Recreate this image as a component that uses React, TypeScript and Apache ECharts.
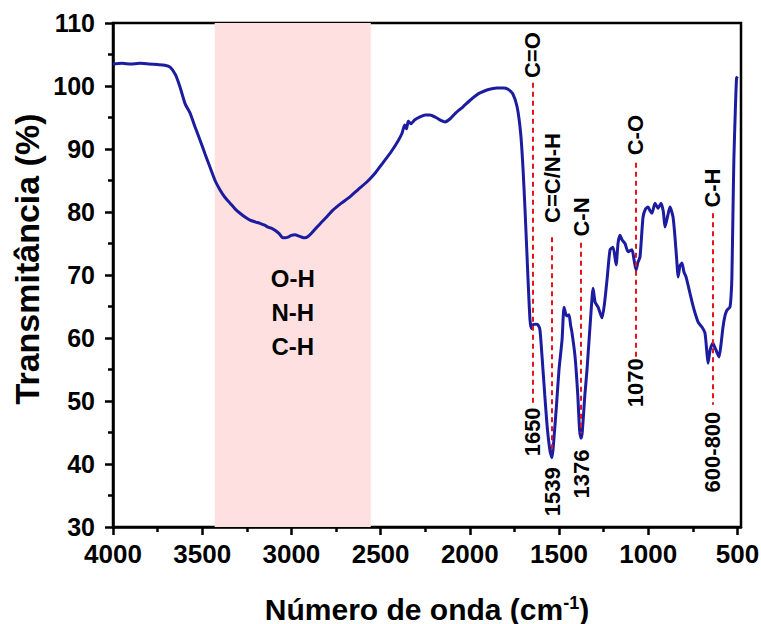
import React, { useEffect, useRef } from "react";
import * as echarts from "echarts";

// FTIR spectrum (wavenumber cm-1, transmittance %)
const wavenumbers = [
  4000, 3950, 3900, 3850, 3800, 3750, 3710, 3680, 3650, 3624, 3596, 3568, 3540, 3512, 3484, 3456, 3428, 3400,
  3372, 3344, 3316, 3288, 3260, 3232, 3200, 3176, 3150, 3131, 3110, 3092, 3070, 3053, 3035, 3019, 3000, 2980,
  2960, 2941, 2925, 2907, 2885, 2857, 2830, 2800, 2767, 2720, 2672, 2625, 2576, 2530, 2487, 2440, 2400, 2380,
  2365, 2355, 2345, 2330, 2310, 2279, 2250, 2223, 2190, 2160, 2139, 2110, 2080, 2038, 2000, 1960, 1943, 1900,
  1848, 1810, 1786, 1760, 1735, 1715, 1702, 1690, 1680, 1674, 1663, 1655, 1646, 1630, 1618, 1607, 1595, 1580,
  1565, 1550, 1539, 1530, 1515, 1500, 1483, 1472, 1462, 1455, 1444, 1435, 1427, 1410, 1395, 1385, 1377, 1370,
  1355, 1343, 1321, 1309, 1298, 1281, 1259, 1245, 1230, 1214, 1197, 1180, 1169, 1158, 1147, 1130, 1113, 1091,
  1080, 1068, 1058, 1046, 1029, 1015, 1001, 990, 979, 962, 945, 928, 915, 906, 890, 878, 861, 850, 839, 833,
  822, 811, 800, 788, 766, 750, 738, 720, 698, 682, 672, 665, 655, 648, 637, 628, 620, 612, 603, 592, 581, 570,
  559, 542, 535, 531, 525, 520, 512, 505, 500,
];
const transmittance = [
  103.5, 103.6, 103.5, 103.6, 103.5, 103.4, 103.3, 103.0, 101.8, 99.8, 97.2, 95.7, 93.5, 91.4, 89.2, 87.1, 85.0, 83.5,
  82.3, 81.4, 80.5, 79.8, 79.2, 78.7, 78.4, 78.2, 77.9, 77.6, 77.4, 77.1, 76.6, 76.0, 75.9, 76.0, 76.3, 76.4,
  76.2, 76.0, 75.9, 76.1, 76.7, 77.6, 78.4, 79.3, 80.3, 81.4, 82.4, 83.6, 84.8, 86.2, 87.8, 89.6, 91.4, 92.5,
  93.8, 93.2, 94.4, 94.0, 94.6, 95.1, 95.4, 95.4, 95.0, 94.5, 94.3, 94.8, 95.7, 96.7, 97.7, 98.6, 98.9, 99.4,
  99.7, 99.7, 99.5, 98.8, 96.7, 92.5, 87.0, 80.0, 73.5, 69.5, 63.0, 61.5, 62.1, 62.2, 62.1, 61.3, 57.0, 51.0,
  45.5, 42.0, 41.0, 43.5, 49.0, 55.0, 59.7, 64.9, 63.8, 63.5, 63.7, 62.0, 60.8, 57.0, 51.0, 45.5, 44.1, 45.0,
  51.0, 55.0, 64.0, 67.9, 65.7, 64.9, 63.2, 65.5, 69.5, 74.0, 74.4, 71.6, 75.1, 76.3, 75.6, 75.0, 73.7, 74.0,
  72.5, 70.8, 72.0, 72.9, 79.2, 80.5, 80.8, 80.2, 79.8, 81.4, 80.6, 81.4, 80.0, 77.6, 79.5, 80.8, 79.2, 76.0, 71.9, 69.7,
  71.5, 71.9, 70.5, 69.7, 67.1, 65.2, 64.0, 62.5, 61.7, 60.8, 58.0, 56.0, 57.8, 58.6, 59.2, 58.6, 58.1, 57.5, 57.0, 59.0, 61.7, 63.5,
  64.4, 64.9, 67.0, 69.7, 80.0, 88.3, 96.0, 101.2, 101.5,
];

// axis ticks
const xMajorTicks = [500, 1000, 1500, 2000, 2500, 3000, 3500, 4000];
const xMinorTicks = [750, 1250, 1750, 2250, 2750, 3250, 3750];

// highlighted band
const bandRange = [3430, 2555];
const bandLabel = ["O-H", "N-H", "C-H"];
const bandLabelPos = [2992, 64.1];

// peak annotations
const peakX = [1650, 1539, 1376, 1070, 640];
const peakGroups = ["C=O", "C=C/N-H", "C-N", "C-O", "C-H"];
const peakValues = ["1650", "1539", "1376", "1070", "600-800"];
const groupLabelY = [104.9, 85.4, 79.2, 92.2, 83.8];
const valueLabelY = [45.1, 35.6, 38.4, 52.9, 41.9];
const lineTop = [100.5, 76.0, 75.1, 87.8, 79.8];
const lineBottom = [49.4, 42.2, 44.9, 57.0, 49.4];

const FONT = "'Liberation Sans', Arial, Helvetica, sans-serif";

export default function App() {
  const ref = useRef<HTMLDivElement>(null);
  useEffect(() => {
    if (!ref.current) return;
    const chart = echarts.init(ref.current, null, { renderer: "svg" });
    const spectrum = wavenumbers.map((w, i) => [w, transmittance[i]]);
    const labelPoints = [
      ...peakX.map((x, i) => ({ name: peakGroups[i], value: [x, groupLabelY[i]] })),
      ...peakX.map((x, i) => ({ name: peakValues[i], value: [x, valueLabelY[i]] })),
    ];
    const textLabel = {
      color: "#000",
      opacity: 1,
      fontWeight: "bold",
      fontFamily: FONT,
      textBorderWidth: 0,
      textBorderColor: "transparent",
      textShadowBlur: 0,
    };
    chart.setOption({
      animation: false,
      backgroundColor: "#fff",
      grid: {
        left: 113,
        right: 20,
        top: 23,
        bottom: 97,
        outerBoundsMode: "none",
        containLabel: false,
        show: true,
        borderColor: "#000",
        borderWidth: 2.5,
        backgroundColor: "transparent",
      },
      xAxis: [
        {
          type: "value",
          min: 480,
          max: 4000,
          inverse: true,
          position: "bottom",
          splitLine: { show: false },
          axisLine: { show: true, onZero: false, lineStyle: { color: "#000", width: 2.5 } },
          axisTick: {
            show: true,
            inside: false,
            length: 8,
            customValues: xMajorTicks,
            lineStyle: { color: "#000", width: 2.5 },
          },
          axisLabel: {
            customValues: xMajorTicks,
            formatter: (v: number) => String(v),
            hideOverlap: false,
            margin: 14,
            color: "#000",
            fontSize: 26,
            fontWeight: "bold",
            fontFamily: FONT,
          },
          name: "Número de onda (cm{sup|-1})",
          nameLocation: "middle",
          nameGap: 67,
          nameTextStyle: {
            color: "#000",
            fontSize: 30,
            fontWeight: "bold",
            fontFamily: FONT,
            rich: {
              sup: {
                fontSize: 18,
                fontWeight: "bold",
                fontFamily: FONT,
                color: "#000",
                verticalAlign: "top",
              },
            },
          },
        },
        {
          type: "value",
          min: 480,
          max: 4000,
          inverse: true,
          position: "bottom",
          gridIndex: 0,
          splitLine: { show: false },
          axisLine: { show: false, onZero: false },
          axisTick: {
            show: true,
            inside: false,
            length: 5,
            customValues: xMinorTicks,
            lineStyle: { color: "#000", width: 2.5 },
          },
          axisLabel: { show: false },
        },
      ],
      yAxis: {
        type: "value",
        min: 30,
        max: 110,
        interval: 10,
        splitLine: { show: false },
        axisLine: { show: true, onZero: false, lineStyle: { color: "#000", width: 2.5 } },
        axisTick: { show: true, inside: false, length: 8, lineStyle: { color: "#000", width: 2.5 } },
        minorTick: { show: true, splitNumber: 2, length: 5, lineStyle: { color: "#000", width: 2.5 } },
        minorSplitLine: { show: false },
        axisLabel: {
          margin: 18,
          color: "#000",
          fontSize: 25,
          fontWeight: "bold",
          fontFamily: FONT,
        },
      },
      graphic: [
        {
          type: "text",
          x: 27,
          y: 259,
          rotation: Math.PI / 2,
          style: {
            text: "Transmitância (%)",
            x: 0,
            y: 0,
            align: "center",
            verticalAlign: "middle",
            fill: "#000",
            font: `bold 34px ${FONT}`,
          },
        },
      ],
      series: [
        {
          type: "line",
          name: "band",
          data: [],
          silent: true,
          markArea: {
            silent: true,
            itemStyle: { color: "#fde0df", opacity: 1 },
            data: [[{ xAxis: bandRange[0] }, { xAxis: bandRange[1] }]],
            label: { show: false },
          },
          z: 1,
        },
        {
          type: "line",
          name: "spectrum",
          data: spectrum,
          showSymbol: false,
          symbol: "none",
          smooth: 0.2,
          lineStyle: { color: "#1c1ca0", width: 3 },
          z: 3,
          markLine: {
            silent: true,
            symbol: ["none", "none"],
            label: { show: false },
            lineStyle: { color: "#e4151b", width: 2, type: [5, 4] },
            data: peakX.map((x, i) => [
              { coord: [x, lineTop[i]] },
              { coord: [x, lineBottom[i]] },
            ]),
          },
        },
        {
          type: "scatter",
          name: "labels",
          data: labelPoints,
          symbolSize: 1,
          itemStyle: { color: "#000", opacity: 0 },
          silent: true,
          z: 5,
          label: {
            show: true,
            position: "inside",
            rotate: 90,
            formatter: (p: any) => p.name,
            fontSize: 22,
            ...textLabel,
          },
        },
        {
          type: "scatter",
          name: "bandText",
          data: [{ name: bandLabel.join("\n"), value: bandLabelPos }],
          symbolSize: 1,
          itemStyle: { color: "#000", opacity: 0 },
          silent: true,
          z: 5,
          label: {
            show: true,
            position: "inside",
            formatter: (p: any) => p.name,
            fontSize: 24,
            lineHeight: 34,
            align: "center",
            ...textLabel,
          },
        },
      ],
    });
    return () => chart.dispose();
  }, []);
  return <div ref={ref} style={{ width: 761, height: 624, position: "absolute", left: 0, top: 0 }} />;
}
